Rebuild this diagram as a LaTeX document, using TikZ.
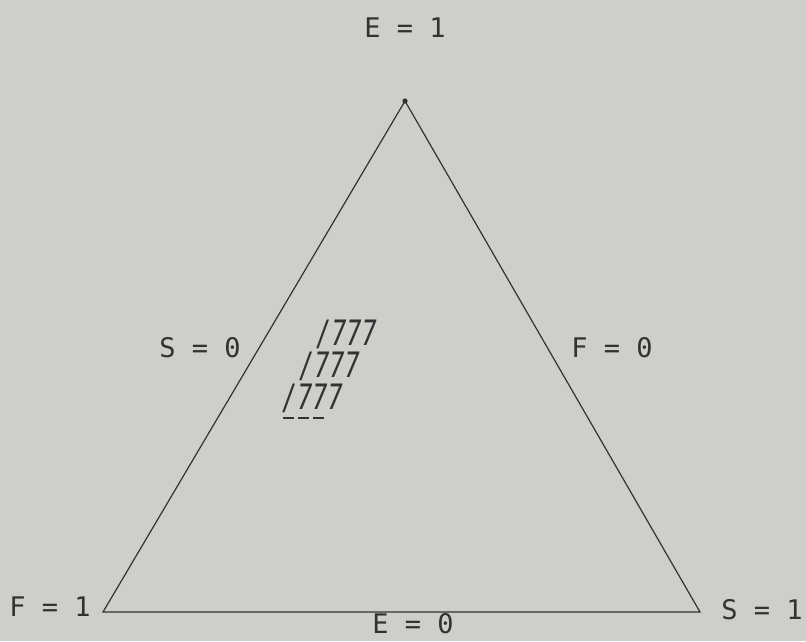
\documentclass[tikz,border=0pt]{standalone}
\usepackage{fontspec}
\newfontfamily\plotfont{DejaVu Sans Mono}
\usetikzlibrary{positioning}
\definecolor{paper}{RGB}{206,206,202}
\definecolor{ink}{RGB}{50,50,50}
\begin{document}
\begin{tikzpicture}[x=1pt, y=-1pt,
    lbl/.style={font=\plotfont\fontsize{27}{27}\selectfont, text=ink, inner sep=0pt},
    hatchrow/.style={font=\plotfont\itshape\fontsize{35}{35}\selectfont, text=ink, xscale=0.72,
      inner sep=0pt, text height=25pt, text depth=0pt, anchor=base west},
    side/.style={draw=ink, line width=1.2pt}]
\fill[paper] (0,0) rectangle (806,641);
% corners of the triangle
\coordinate (top) at (405,101);
\coordinate (left) at (103,612);
\coordinate (right) at (700,612);
\draw[side] (top) -- (left) -- (right) -- cycle;
\fill[ink] (top) circle (2.6);

\node[lbl] (e1) at (405,28) {E = 1};
\node[lbl] (s0) at (200,348) {S = 0};
\node[lbl] (f0) at (612,348) {F = 0};
\node[lbl] (f1) at (50,607) {F = 1};
\node[lbl] (s1) at (762,610) {S = 1};
\node[lbl] (e0) at (413,624) {E = 0};

% hatched patch
\node[hatchrow] (h1) at (316,345) {/777};
\node[hatchrow] (h2) at (299,377) {/777};
\node[hatchrow] (h3) at (282,409) {/777};
\foreach \x in {283,298,313}
  \draw[ink, line width=1.8pt] (\x,418) -- ++(11,0);
\end{tikzpicture}
\end{document}
